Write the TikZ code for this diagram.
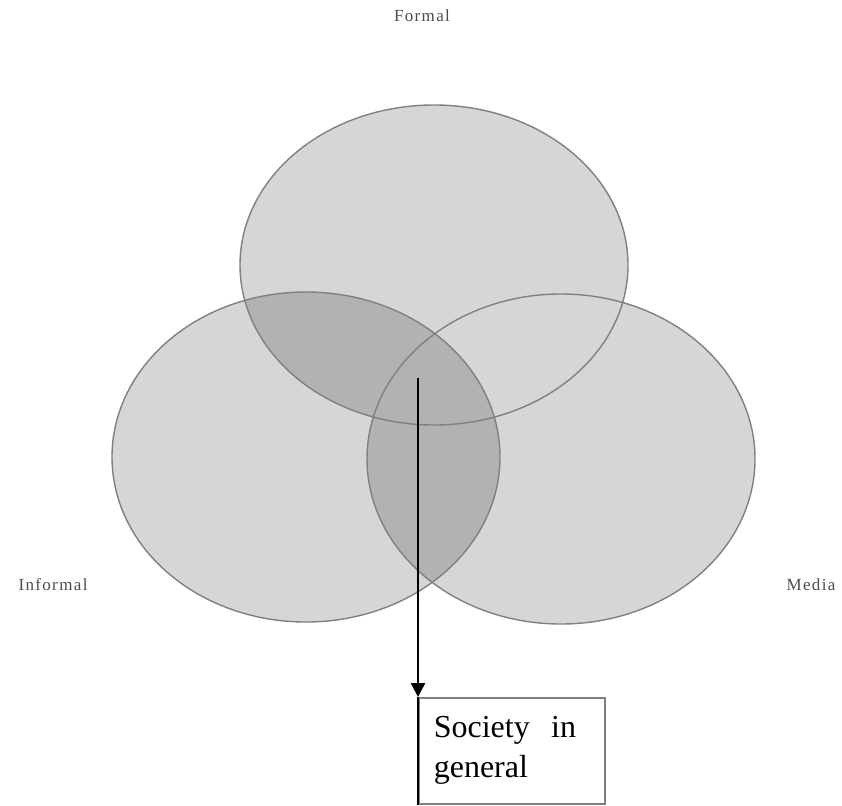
\documentclass[tikz,border=0pt]{standalone}
\usepackage{fontspec}
\setmainfont{Liberation Serif}
\usetikzlibrary{
    calc,
    arrows.meta,
    positioning
}
\definecolor{lightdot}{HTML}{D6D6D6}
\definecolor{darkdot}{HTML}{B2B2B2}
\definecolor{rim}{HTML}{808080}
\tikzset{
    setlabel/.style={font=\fontsize{17}{19}\selectfont\addfontfeatures{LetterSpace=8}, text=black!70},
    rimline/.style={draw=rim, line width=1.4pt},
    outcome/.style={draw=rim, line width=1.6pt, anchor=north west, align=left,
        minimum width=186pt, minimum height=106pt, text width=156pt,
        inner xsep=15pt, inner ysep=7pt, font=\fontsize{32}{40}\selectfont}
}

\begin{document}
\begin{tikzpicture}[x=1pt,y=-1pt]
        \useasboundingbox (0,0) rectangle (842,805);

        % the three sets
        \fill[lightdot] (434,265) ellipse [x radius=194, y radius=160];
        \fill[lightdot] (306,457) ellipse [x radius=194, y radius=165];
        \fill[lightdot] (561,459) ellipse [x radius=194, y radius=165];
        \begin{scope}
            \clip (306,457) ellipse [x radius=194, y radius=165];
            \fill[darkdot] (434,265) ellipse [x radius=194, y radius=160];
            \fill[darkdot] (561,459) ellipse [x radius=194, y radius=165];
        \end{scope}
        \draw[rimline] (434,265) ellipse [x radius=194, y radius=160];
        \draw[rimline] (306,457) ellipse [x radius=194, y radius=165];
        \draw[rimline] (561,459) ellipse [x radius=194, y radius=165];

        \draw (422,16) node[setlabel](formal){Formal};
        \draw (53,585) node[setlabel](informal){Informal};
        \draw (811,585) node[setlabel](media){Media};

        \coordinate (core) at (418,378);
        \node[outcome] (society) at (418,697) {Society\ \ in\\general};

        \draw[line width=2.6pt, -{Triangle[length=14pt,width=14pt]}] (core) to (society.north west);
        \draw[line width=2.6pt] (society.north west) -- (society.south west);
    \end{tikzpicture}
\end{document}
